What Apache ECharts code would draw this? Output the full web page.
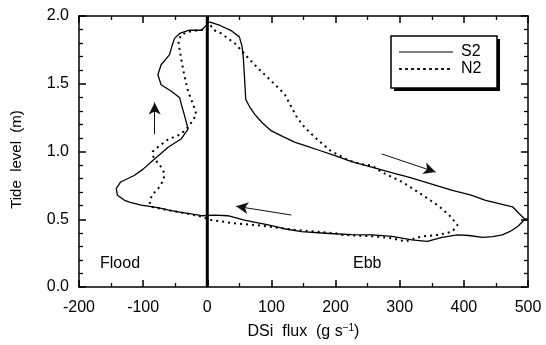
<!DOCTYPE html>
<html>
<head>
<meta charset="utf-8">
<script src="https://cdn.jsdelivr.net/npm/echarts@6/dist/echarts.min.js"></script>
<style>
  html, body { margin: 0; padding: 0; background: #fff; }
  #chart { width: 546px; height: 345px; }
</style>
</head>
<body>
<div id="chart"></div>
<script>
// S2 loop (solid): DSi flux (g/s) vs tide level (m)
var s2Flux = [3, 20, 38, 50, 54, 56, 58, 60, 66, 74, 86, 100, 118, 137, 155, 173, 199, 225, 262, 290, 314, 350, 382, 410, 434, 460, 476, 486, 494, 500, 494, 484, 472, 460, 445, 429, 408, 390, 366, 343, 330, 319, 288, 257, 225, 190, 147, 120, 95, 75, 58, 32, 11, -9, -25, -41, -60, -77, -103, -120, -129, -140, -142, -135, -114, -100, -88, -75, -61, -41, -30, -33, -36, -40, -43, -56, -72, -77, -72, -59, -55, -51, -43, -28, -9, -4, 3];
var s2Level = [1.956, 1.93, 1.89, 1.846, 1.78, 1.70, 1.55, 1.384, 1.33, 1.274, 1.21, 1.152, 1.11, 1.067, 1.04, 1.011, 0.969, 0.925, 0.877, 0.84, 0.811, 0.76, 0.713, 0.68, 0.640, 0.61, 0.592, 0.543, 0.505, 0.5, 0.495, 0.446, 0.41, 0.385, 0.372, 0.366, 0.380, 0.385, 0.366, 0.336, 0.343, 0.348, 0.373, 0.385, 0.387, 0.395, 0.409, 0.43, 0.458, 0.477, 0.494, 0.526, 0.531, 0.526, 0.54, 0.550, 0.567, 0.585, 0.604, 0.625, 0.640, 0.677, 0.726, 0.775, 0.823, 0.87, 0.921, 0.975, 1.031, 1.092, 1.165, 1.22, 1.274, 1.34, 1.396, 1.445, 1.493, 1.566, 1.640, 1.713, 1.78, 1.835, 1.871, 1.895, 1.895, 1.92, 1.956];

// N2 loop (dashed)
var n2Flux = [5, 11, 22, 32, 43, 50, 64, 79, 95, 111, 121, 129, 140, 152, 171, 192, 220, 241, 257, 272, 304, 340, 360, 377, 390, 382, 361, 335, 324, 309, 288, 262, 210, 199, 137, 85, 43, 6, -9, -35, -61, -88, -90, -86, -76, -68, -67, -71, -78, -84, -85, -75, -61, -41, -28, -17, -22, -30, -36, -41, -45, -41, -30, -15, -5, 5];
var n2Level = [1.93, 1.895, 1.871, 1.835, 1.798, 1.762, 1.689, 1.615, 1.542, 1.469, 1.42, 1.347, 1.25, 1.177, 1.091, 1.006, 0.935, 0.906, 0.896, 0.848, 0.775, 0.665, 0.6, 0.531, 0.458, 0.409, 0.385, 0.373, 0.36, 0.336, 0.36, 0.373, 0.385, 0.397, 0.421, 0.453, 0.470, 0.494, 0.519, 0.545, 0.567, 0.592, 0.63, 0.68, 0.73, 0.79, 0.84, 0.88, 0.92, 0.96, 1.0, 1.04, 1.09, 1.128, 1.19, 1.274, 1.347, 1.445, 1.566, 1.689, 1.81, 1.859, 1.883, 1.895, 1.9, 1.93];

// direction arrows: [fromFlux, fromLevel, toFlux, toLevel]
var arrows = [
  [-82, 1.128, -82, 1.362],
  [272, 0.982, 356, 0.848],
  [131, 0.531, 45, 0.596]
];

var seriesNames = ["S2", "N2"];

var xTicks = { min: -200, max: 500, step: 100 };
var yTicks = { min: 0, max: 2, step: 0.5 };

function zip(xs, ys) {
  return xs.map(function (x, i) { return [x, ys[i]]; });
}

var font = "Liberation Sans, Arial, Helvetica, sans-serif";

var chart = echarts.init(document.getElementById("chart"));

function axisBase(pos, isX, labels) {
  var lim = isX ? xTicks : yTicks;
  var ax = {
    type: "value",
    position: pos,
    min: lim.min,
    max: lim.max,
    interval: lim.step,
    axisLine: { show: true, onZero: false, lineStyle: { color: "#000", width: 1.5 } },
    axisTick: { show: true, inside: true, length: 7, lineStyle: { color: "#000", width: 1.5 } },
    minorTick: { show: true, splitNumber: isX ? 2 : 5, length: 4, lineStyle: { color: "#000", width: 1.3 } },
    splitLine: { show: false },
    axisLabel: {
      show: labels,
      color: "#000",
      fontFamily: font,
      fontSize: 16,
      margin: isX ? 13 : 10
    }
  };
  if (!isX) {
    ax.axisLabel.formatter = function (v) { return v.toFixed(1); };
  }
  return ax;
}

var xBottom = axisBase("bottom", true, true);
xBottom.name = "DSi  flux  (g s{sup|−1})";
xBottom.nameLocation = "middle";
xBottom.nameGap = 36;
xBottom.nameTextStyle = {
  color: "#000", fontFamily: font, fontSize: 16,
  rich: { sup: { fontSize: 10, verticalAlign: "top", padding: [0, 0, 8, 0], fontFamily: font } }
};
var xTop = axisBase("top", true, false);

var yLeft = axisBase("left", false, true);
yLeft.name = "Tide  level  (m)";
yLeft.nameLocation = "middle";
yLeft.nameGap = 55;
yLeft.nameTextStyle = { color: "#000", fontFamily: font, fontSize: 15, padding: [0, 16, 0, 0] };
var yRight = axisBase("right", false, false);

var arrowLines = arrows.map(function (a) {
  return [{ coord: [a[0], a[1]] }, { coord: [a[2], a[3]] }];
});

// legend box drawn by hand (lines + labels + drop shadow)
var legendBox = { x: 391, y: 36, w: 106, h: 52 };
var legendGraphic = [
  { type: "rect", shape: { x: legendBox.x + 3, y: legendBox.y + 3, width: legendBox.w, height: legendBox.h }, style: { fill: "#000" }, z: 10 },
  { type: "rect", shape: { x: legendBox.x, y: legendBox.y, width: legendBox.w, height: legendBox.h }, style: { fill: "#fff", stroke: "#000", lineWidth: 1.5 }, z: 11 }
];
seriesNames.forEach(function (name, i) {
  var cy = legendBox.y + 16 + i * 17;
  legendGraphic.push({
    type: "line", z: 12,
    shape: { x1: legendBox.x + 8, y1: cy, x2: legendBox.x + 62, y2: cy },
    style: { stroke: "#000", lineWidth: i === 0 ? 1.2 : 1.8, lineDash: i === 0 ? null : [3, 3] }
  });
  legendGraphic.push({
    type: "text", z: 12, x: legendBox.x + 70, y: cy,
    style: { text: name, fill: "#000", font: "16px " + font, verticalAlign: "middle" }
  });
});

chart.setOption({
  animation: false,
  backgroundColor: "#fff",
  grid: { left: 79, right: 18, top: 16, bottom: 56 },
  xAxis: [xBottom, xTop],
  yAxis: [yLeft, yRight],
  graphic: legendGraphic.concat([
    { type: "text", x: 100, y: 264, style: { text: "Flood", fill: "#000", font: "16px " + font, verticalAlign: "middle" } },
    { type: "text", x: 353, y: 264, style: { text: "Ebb", fill: "#000", font: "16px " + font, verticalAlign: "middle" } }
  ]),
  series: [
    {
      name: "zero",
      type: "line",
      data: [[0, 0], [0, 2]],
      symbol: "none",
      silent: true,
      lineStyle: { color: "#000", width: 3 },
      markLine: {
        silent: true,
        symbol: ["none", "arrow"],
        symbolSize: [9, 12],
        label: { show: false },
        lineStyle: { color: "#111", width: 1, type: "solid" },
        data: arrowLines
      }
    },
    {
      name: seriesNames[0],
      type: "line",
      data: zip(s2Flux, s2Level),
      symbol: "none",
      lineStyle: { color: "#000", width: 1.3, type: "solid" }
    },
    {
      name: seriesNames[1],
      type: "line",
      data: zip(n2Flux, n2Level),
      symbol: "none",
      lineStyle: { color: "#000", width: 2, type: [2, 4] }
    }
  ]
});
</script>
</body>
</html>
